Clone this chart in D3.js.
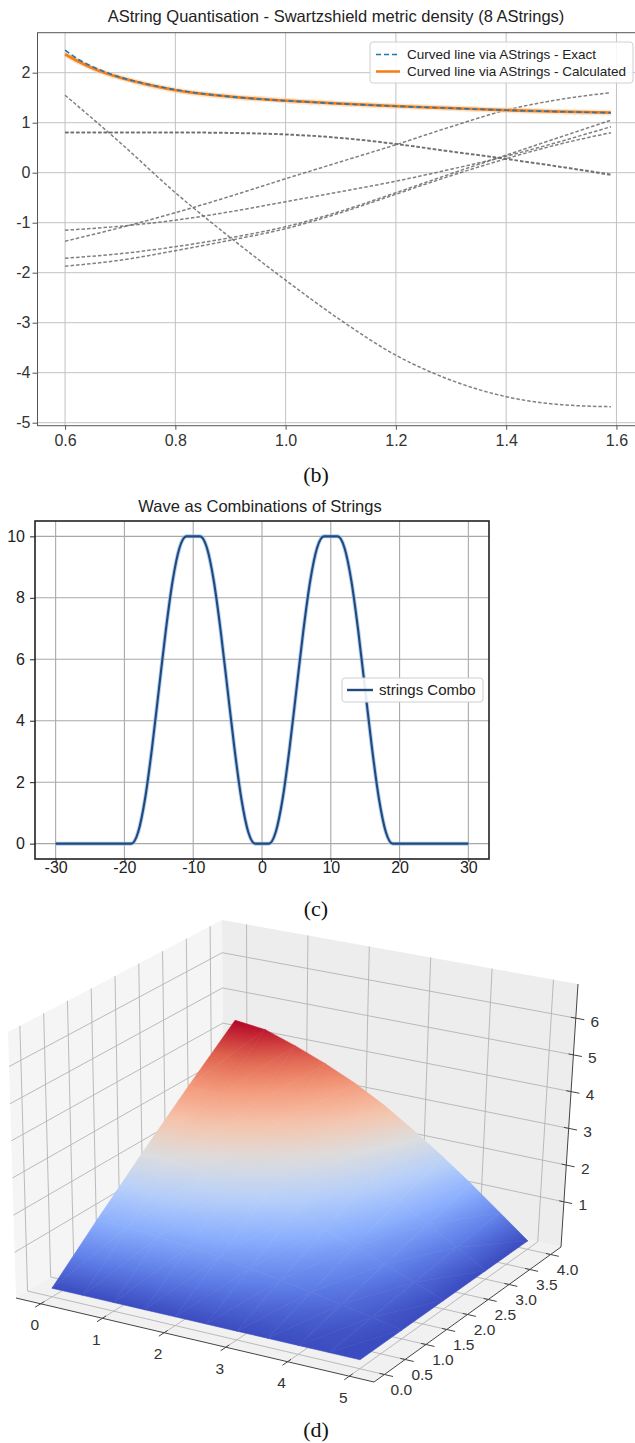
<!DOCTYPE html>
<html>
<head>
<meta charset="utf-8">
<script src="https://cdn.jsdelivr.net/npm/d3@7"></script>
<style>
  body { margin: 0; background: #fff; }
  svg { display: block; font-family: "Liberation Sans", Arial, sans-serif; }
  .lbl { font-family: "Liberation Serif", serif; font-size: 22px; fill: #111; }
</style>
</head>
<body>
<script>
// ---------- (b) AString quantisation ----------
var curveX = [0.6, 0.625, 0.65, 0.7, 0.75, 0.8, 0.9, 1.0, 1.1, 1.2, 1.3, 1.4, 1.5, 1.59];
var exactY = [2.45, 2.26, 2.12, 1.91, 1.77, 1.66, 1.52, 1.44, 1.38, 1.33, 1.29, 1.25, 1.22, 1.2];
var calcY  = [2.37, 2.22, 2.09, 1.9, 1.76, 1.65, 1.52, 1.44, 1.38, 1.33, 1.29, 1.25, 1.22, 1.2];

var stringX = [0.6, 0.7, 0.8, 0.9, 1.0, 1.1, 1.2, 1.3, 1.4, 1.5, 1.59];
var stringA  = [1.55, 0.6, -0.4, -1.3, -2.15, -2.95, -3.65, -4.15, -4.48, -4.64, -4.68];
var stringB1 = [0.81, 0.81, 0.81, 0.8, 0.77, 0.7, 0.58, 0.43, 0.28, 0.12, -0.03];
var stringB2 = [0.8, 0.8, 0.8, 0.79, 0.76, 0.69, 0.57, 0.42, 0.27, 0.11, -0.05];
var stringC  = [-1.37, -1.1, -0.8, -0.47, -0.12, 0.22, 0.56, 0.92, 1.25, 1.47, 1.6];
var stringD  = [-1.15, -1.07, -0.95, -0.78, -0.58, -0.38, -0.17, 0.07, 0.33, 0.63, 0.92];
var stringE  = [-1.71, -1.62, -1.48, -1.3, -1.08, -0.77, -0.4, -0.02, 0.35, 0.72, 1.05];
var stringF  = [-1.87, -1.75, -1.56, -1.35, -1.12, -0.8, -0.43, -0.06, 0.28, 0.58, 0.8];

var bXTicks = [0.6, 0.8, 1.0, 1.2, 1.4, 1.6];
var bYTicks = [-5, -4, -3, -2, -1, 0, 1, 2];

// ---------- (c) wave ----------
var waveX = [-30, -19, -18, -17, -16, -15, -14, -13, -12, -11, -10, -9, -8, -7, -6, -5, -4, -3, -2, -1,
             0, 1, 2, 3, 4, 5, 6, 7, 8, 9, 10, 11, 12, 13, 14, 15, 16, 17, 18, 19, 30];
var waveY = [0, 0, 0.38, 1.46, 3.09, 5, 6.91, 8.54, 9.62, 10, 10, 10, 9.62, 8.54, 6.91, 5, 3.09, 1.46, 0.38, 0,
             0, 0, 0.38, 1.46, 3.09, 5, 6.91, 8.54, 9.62, 10, 10, 10, 9.62, 8.54, 6.91, 5, 3.09, 1.46, 0.38, 0, 0];
var cXTicks = [-30, -20, -10, 0, 10, 20, 30];
var cYTicks = [0, 2, 4, 6, 8, 10];

// ---------- (d) surface ----------
var surfX = [0, 0.5, 1, 1.5, 2, 2.5, 3, 3.5, 4, 4.5, 5];
var surfY = [0, 1, 2, 3, 4];
var zAtY0 = [0, 0, 0, 0, 0, 0, 0, 0, 0, 0, 0];
var zAtY1 = [1.10, 1.08, 1.00, 0.92, 0.83, 0.71, 0.58, 0.45, 0.30, 0.15, 0];
var zAtY2 = [2.20, 2.15, 2.01, 1.84, 1.65, 1.43, 1.17, 0.89, 0.60, 0.30, 0];
var zAtY3 = [3.30, 3.23, 3.01, 2.76, 2.48, 2.14, 1.75, 1.34, 0.90, 0.45, 0];
var zAtY4 = [4.40, 4.30, 4.01, 3.68, 3.30, 2.85, 2.33, 1.78, 1.20, 0.60, 0];
var surfZ = [zAtY0, zAtY1, zAtY2, zAtY3, zAtY4];
var dXTicks = [0, 1, 2, 3, 4, 5];
var dYTicks = [0, 0.5, 1, 1.5, 2, 2.5, 3, 3.5, 4];
var dZTicks = [1, 2, 3, 4, 5, 6];
var coolwarm = ["#3b4cc0", "#6282ea", "#8db0fe", "#b8d0f9", "#dddddd", "#f5c4ac", "#f49a7b", "#de604d", "#b40426"];

var svg = d3.select("body").append("svg").attr("width", 635).attr("height", 1443);
var defs = svg.append("defs");

// ================= chart (b) =================
var bBox = {left: 37.5, right: 638.5, top: 32.7, bottom: 425.7};
var xB = d3.scaleLinear().domain([0.55, 1.64]).range([bBox.left, bBox.right]);
var yB = d3.scaleLinear().domain([-5.06, 2.8]).range([bBox.bottom, bBox.top]);
var gB = svg.append("g");

gB.append("g").selectAll("line").data(bXTicks).join("line")
  .attr("x1", d => xB(d)).attr("x2", d => xB(d)).attr("y1", bBox.top).attr("y2", bBox.bottom)
  .attr("stroke", "#c2c2c2").attr("stroke-width", 1);
gB.append("g").selectAll("line").data(bYTicks).join("line")
  .attr("y1", d => yB(d)).attr("y2", d => yB(d)).attr("x1", bBox.left).attr("x2", bBox.right)
  .attr("stroke", "#c2c2c2").attr("stroke-width", 1);

var lineB = d3.line().x(d => xB(d[0])).y(d => yB(d[1])).curve(d3.curveMonotoneX);
var strings = [stringA, stringB1, stringB2, stringC, stringD, stringE, stringF];
gB.append("g").selectAll("path").data(strings).join("path")
  .attr("d", s => lineB(stringX.map((x, i) => [x, s[i]])))
  .attr("fill", "none").attr("stroke", "#6a6a6a").attr("stroke-opacity", 0.85)
  .attr("stroke-width", 1.5).attr("stroke-dasharray", "3.5,2");

var calcPts = curveX.map((x, i) => [x, calcY[i]]);
var exactPts = curveX.map((x, i) => [x, exactY[i]]);
gB.append("path").attr("d", lineB(calcPts)).attr("fill", "none")
  .attr("stroke", "#ffc896").attr("stroke-width", 5.5).attr("stroke-opacity", 0.5);
gB.append("path").attr("d", lineB(calcPts)).attr("fill", "none")
  .attr("stroke", "#f5801a").attr("stroke-width", 2.8);
gB.append("path").attr("d", lineB(exactPts)).attr("fill", "none")
  .attr("stroke", "#1f77b4").attr("stroke-width", 1.6).attr("stroke-dasharray", "5,3");

// spines
gB.append("rect").attr("x", bBox.left).attr("y", bBox.top)
  .attr("width", bBox.right - bBox.left).attr("height", bBox.bottom - bBox.top)
  .attr("fill", "none").attr("stroke", "#555").attr("stroke-width", 1);

var axB1 = gB.append("g").attr("transform", "translate(" + bBox.left + ",0)")
  .call(d3.axisLeft(yB).tickValues(bYTicks).tickFormat(d => String(d)).tickSize(5).tickPadding(2));
var axB2 = gB.append("g").attr("transform", "translate(0," + bBox.bottom + ")")
  .call(d3.axisBottom(xB).tickValues(bXTicks).tickFormat(d3.format(".1f")).tickSize(4).tickPadding(5));
[axB1, axB2].forEach(a => {
  a.select(".domain").remove();
  a.selectAll("line").attr("stroke", "#555");
  a.selectAll("text").attr("font-size", 16).attr("fill", "#333").attr("font-family", "Liberation Sans, Arial, sans-serif");
});

gB.append("text").attr("x", (bBox.left + bBox.right) / 2 - 2).attr("y", 22)
  .attr("text-anchor", "middle").attr("font-size", 16.5).attr("fill", "#222")
  .text("AString Quantisation - Swartzshield metric density (8 AStrings)");

// legend (b)
var legB = gB.append("g");
legB.append("rect").attr("x", 370).attr("y", 42).attr("width", 263).attr("height", 41).attr("rx", 3)
  .attr("fill", "#fff").attr("fill-opacity", 0.85).attr("stroke", "#d0d0d0");
var legItems = [
  {label: "Curved line via AStrings - Exact", color: "#1f77b4", dash: "5,3", width: 1.6},
  {label: "Curved line via AStrings - Calculated", color: "#f5801a", dash: null, width: 2.6}
];
legItems.forEach((d, i) => {
  var yy = 54.5 + i * 17;
  legB.append("line").attr("x1", 376).attr("x2", 400).attr("y1", yy).attr("y2", yy)
    .attr("stroke", d.color).attr("stroke-width", d.width).attr("stroke-dasharray", d.dash);
  legB.append("text").attr("x", 407).attr("y", yy).attr("dy", "0.35em")
    .attr("font-size", 13.5).attr("fill", "#222").text(d.label);
});

svg.append("text").attr("class", "lbl").attr("x", 316).attr("y", 482).attr("text-anchor", "middle").text("(b)");

// ================= chart (c) =================
var cBox = {left: 35, right: 489, top: 521, bottom: 859};
var xC = d3.scaleLinear().domain([-33, 33]).range([cBox.left, cBox.right]);
var yC = d3.scaleLinear().domain([-0.5, 10.5]).range([cBox.bottom, cBox.top]);
var gC = svg.append("g");

gC.append("g").selectAll("line").data(cXTicks).join("line")
  .attr("x1", d => xC(d)).attr("x2", d => xC(d)).attr("y1", cBox.top).attr("y2", cBox.bottom)
  .attr("stroke", "#a8a8a8").attr("stroke-width", 1.1);
gC.append("g").selectAll("line").data(cYTicks).join("line")
  .attr("y1", d => yC(d)).attr("y2", d => yC(d)).attr("x1", cBox.left).attr("x2", cBox.right)
  .attr("stroke", "#a8a8a8").attr("stroke-width", 1.1);

var lineC = d3.line().x(d => xC(d[0])).y(d => yC(d[1])).curve(d3.curveMonotoneX);
var wavePts = waveX.map((x, i) => [x, waveY[i]]);
gC.append("path").attr("d", lineC(wavePts)).attr("fill", "none")
  .attr("stroke", "#8fbbe9").attr("stroke-width", 4).attr("stroke-opacity", 0.7);
gC.append("path").attr("d", lineC(wavePts)).attr("fill", "none")
  .attr("stroke", "#23497c").attr("stroke-width", 2.1);

gC.append("rect").attr("x", cBox.left).attr("y", cBox.top)
  .attr("width", cBox.right - cBox.left).attr("height", cBox.bottom - cBox.top)
  .attr("fill", "none").attr("stroke", "#222").attr("stroke-width", 1.6);

var axC1 = gC.append("g").attr("transform", "translate(" + cBox.left + ",0)")
  .call(d3.axisLeft(yC).tickValues(cYTicks).tickSize(5).tickPadding(5));
var axC2 = gC.append("g").attr("transform", "translate(0," + cBox.bottom + ")")
  .call(d3.axisBottom(xC).tickValues(cXTicks).tickFormat(d => String(d)).tickSize(3).tickPadding(0));
[axC1, axC2].forEach(a => {
  a.select(".domain").remove();
  a.selectAll("line").attr("stroke", "#222");
  a.selectAll("text").attr("font-size", 16).attr("fill", "#222").attr("font-family", "Liberation Sans, Arial, sans-serif");
});

gC.append("text").attr("x", (cBox.left + cBox.right) / 2 - 2).attr("y", 512)
  .attr("text-anchor", "middle").attr("font-size", 16.5).attr("fill", "#222")
  .text("Wave as Combinations of Strings");

var legC = gC.append("g");
legC.append("rect").attr("x", 342).attr("y", 678).attr("width", 141).attr("height", 24).attr("rx", 3)
  .attr("fill", "#fff").attr("fill-opacity", 0.9).attr("stroke", "#cfcfcf");
legC.append("line").attr("x1", 347).attr("x2", 373).attr("y1", 690).attr("y2", 690)
  .attr("stroke", "#23497c").attr("stroke-width", 2.4);
legC.append("text").attr("x", 379).attr("y", 690).attr("dy", "0.35em")
  .attr("font-size", 15).attr("fill", "#222").text("strings Combo");

svg.append("text").attr("class", "lbl").attr("x", 316).attr("y", 916).attr("text-anchor", "middle").text("(c)");

// ================= chart (d) =================
var dLim = {x: [-0.4, 5.4], y: [-0.25, 4.25], z: [-0.23, 6.93]};
var uS = d3.scaleLinear().domain(dLim.x).range([0, 1]);
var vS = d3.scaleLinear().domain(dLim.y).range([0, 1]);
var wS = d3.scaleLinear().domain(dLim.z).range([0, 1]);
// screen position of the 8 corners of the view box (left, front, right, back; floor and top)
var cube = {
  lb: [16, 1298], fb: [374, 1382], rb: [561, 1247], bb: [224, 1172],
  lt: [8, 1032],  ft: [382, 1100], rt: [578, 984],  bt: [222, 920]
};
function mix(a, b, t) { return [a[0] + (b[0] - a[0]) * t, a[1] + (b[1] - a[1]) * t]; }
function proj(x, y, z) {
  var s = uS(x), t = vS(y), r = wS(z);
  var bot = mix(mix(cube.lb, cube.fb, s), mix(cube.bb, cube.rb, s), t);
  var top = mix(mix(cube.lt, cube.ft, s), mix(cube.bt, cube.rt, s), t);
  return mix(bot, top, r);
}
function poly(pts) { return "M" + pts.map(p => p[0].toFixed(2) + "," + p[1].toFixed(2)).join("L") + "Z"; }

var X0 = dLim.x[0], X1 = dLim.x[1], Y0 = dLim.y[0], Y1 = dLim.y[1], Z0 = dLim.z[0], Z1 = dLim.z[1];
var gD = svg.append("g");

// panes
gD.append("path").attr("d", poly([proj(X0, Y0, Z0), proj(X0, Y1, Z0), proj(X0, Y1, Z1), proj(X0, Y0, Z1)])).attr("fill", "#f5f5f5");
gD.append("path").attr("d", poly([proj(X0, Y1, Z0), proj(X1, Y1, Z0), proj(X1, Y1, Z1), proj(X0, Y1, Z1)])).attr("fill", "#ededed");
gD.append("path").attr("d", poly([proj(X0, Y0, Z0), proj(X1, Y0, Z0), proj(X1, Y1, Z0), proj(X0, Y1, Z0)])).attr("fill", "#f1f1f1");

// pane grid
var gridSegs = [];
dYTicks.forEach(y => {
  gridSegs.push([proj(X0, y, Z0), proj(X0, y, Z1)]);
  gridSegs.push([proj(X0, y, Z0), proj(X1, y, Z0)]);
});
dXTicks.forEach(x => {
  gridSegs.push([proj(x, Y1, Z0), proj(x, Y1, Z1)]);
  gridSegs.push([proj(x, Y0, Z0), proj(x, Y1, Z0)]);
});
dZTicks.forEach(z => {
  gridSegs.push([proj(X0, Y0, z), proj(X0, Y1, z)]);
  gridSegs.push([proj(X0, Y1, z), proj(X1, Y1, z)]);
});
gD.append("g").selectAll("line").data(gridSegs).join("line")
  .attr("x1", d => d[0][0]).attr("y1", d => d[0][1]).attr("x2", d => d[1][0]).attr("y2", d => d[1][1])
  .attr("stroke", "#b3b3b3").attr("stroke-width", 0.9);

// surface
var zMin = d3.min(surfZ, r => d3.min(r)), zMax = d3.max(surfZ, r => d3.max(r));
var zColor = d3.scaleLinear()
  .domain(coolwarm.map((c, i) => zMin + (zMax - zMin) * i / (coolwarm.length - 1)))
  .range(coolwarm).interpolate(d3.interpolateRgb);
var tris = [];
for (var j = 0; j < surfY.length - 1; j++) {
  for (var i = 0; i < surfX.length - 1; i++) {
    var c = [[i, j], [i + 1, j], [i + 1, j + 1], [i, j + 1]].map(function (ij) {
      var zz = surfZ[ij[1]][ij[0]];
      return {p: proj(surfX[ij[0]], surfY[ij[1]], zz), z: zz};
    });
    tris.push([c[0], c[1], c[2]], [c[0], c[2], c[3]]);
  }
}
var gS = gD.append("g");
tris.forEach(function (t, k) {
  var d1 = [t[1].p[0] - t[0].p[0], t[1].p[1] - t[0].p[1]];
  var d2 = [t[2].p[0] - t[0].p[0], t[2].p[1] - t[0].p[1]];
  var dz1 = t[1].z - t[0].z, dz2 = t[2].z - t[0].z;
  var det = d1[0] * d2[1] - d1[1] * d2[0];
  var a = (dz1 * d2[1] - dz2 * d1[1]) / det, b = (d1[0] * dz2 - d2[0] * dz1) / det;
  var g2 = a * a + b * b;
  var zs = t.map(q => q.z), lo = d3.min(zs), hi = d3.max(zs);
  var fill;
  if (hi - lo < 1e-6 || g2 < 1e-12) {
    fill = zColor(lo);
  } else {
    var p0 = [t[0].p[0] + a * (lo - t[0].z) / g2, t[0].p[1] + b * (lo - t[0].z) / g2];
    var p1 = [t[0].p[0] + a * (hi - t[0].z) / g2, t[0].p[1] + b * (hi - t[0].z) / g2];
    var grad = defs.append("linearGradient").attr("id", "sg" + k).attr("gradientUnits", "userSpaceOnUse")
      .attr("x1", p0[0]).attr("y1", p0[1]).attr("x2", p1[0]).attr("y2", p1[1]);
    [0, 0.25, 0.5, 0.75, 1].forEach(o => grad.append("stop").attr("offset", o).attr("stop-color", zColor(lo + (hi - lo) * o)));
    fill = "url(#sg" + k + ")";
  }
  gS.append("path").attr("d", poly(t.map(q => q.p))).attr("fill", fill)
    .attr("stroke", fill).attr("stroke-width", 0.6).attr("stroke-linejoin", "round");
});

// axis lines
var axisSegs = [
  [proj(X0, Y0, Z0), proj(X1, Y0, Z0)],
  [proj(X1, Y0, Z0), proj(X1, Y1, Z0)],
  [proj(X1, Y1, Z0), proj(X1, Y1, Z1)]
];
dXTicks.forEach(x => axisSegs.push([proj(x, Y0 - 0.12, Z0), proj(x, Y0 + 0.08, Z0)]));
dYTicks.forEach(y => axisSegs.push([proj(X1 + 0.14, y, Z0), proj(X1 - 0.08, y, Z0)]));
dZTicks.forEach(z => axisSegs.push([proj(X1 - 0.08, Y1, z), proj(X1 + 0.14, Y1, z)]));
gD.append("g").selectAll("line").data(axisSegs).join("line")
  .attr("x1", d => d[0][0]).attr("y1", d => d[0][1]).attr("x2", d => d[1][0]).attr("y2", d => d[1][1])
  .attr("stroke", "#444").attr("stroke-width", 1);

// tick labels
var tickLbls = [];
dXTicks.forEach(x => { var p = proj(x, Y0, Z0); tickLbls.push({x: p[0] - 6, y: p[1] + 21, t: String(x)}); });
dYTicks.forEach(y => { var p = proj(X1, y, Z0); tickLbls.push({x: p[0] + 17, y: p[1] + 15, t: d3.format(".1f")(y)}); });
dZTicks.forEach(z => { var p = proj(X1, Y1, z); tickLbls.push({x: p[0] + 19, y: p[1] + 3, t: String(z)}); });
gD.append("g").selectAll("text").data(tickLbls).join("text")
  .attr("x", d => d.x).attr("y", d => d.y).attr("dy", "0.35em").attr("text-anchor", "middle")
  .attr("font-size", 15.5).attr("fill", "#333").text(d => d.t);

svg.append("text").attr("class", "lbl").attr("x", 316).attr("y", 1437).attr("text-anchor", "middle").text("(d)");
</script>
</body>
</html>
